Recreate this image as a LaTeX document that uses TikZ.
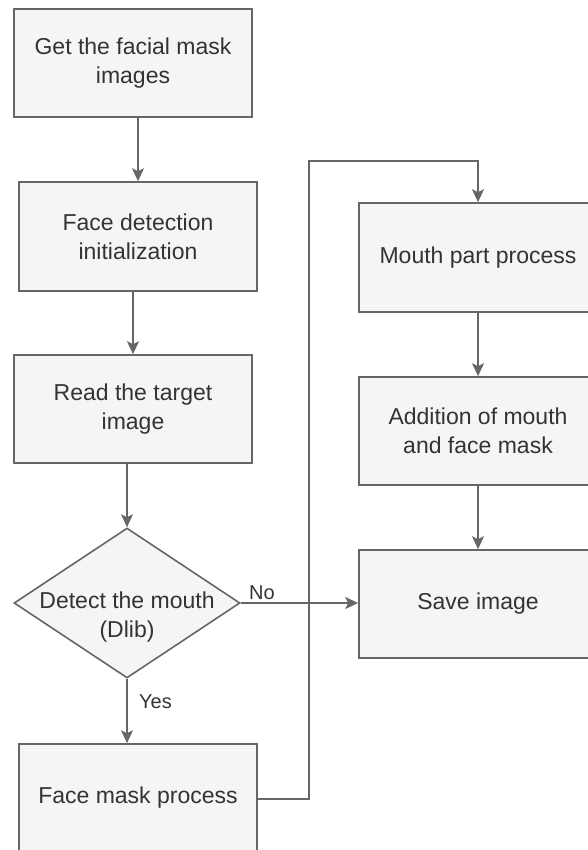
\documentclass[tikz,border=0pt]{standalone}
\usepackage{fontspec}
\setmainfont{Liberation Sans}
\usetikzlibrary{shapes.geometric,arrows.meta}
\definecolor{edge}{HTML}{666666}
\definecolor{boxfill}{HTML}{F5F5F5}
\definecolor{ink}{HTML}{333333}
\begin{document}
\begin{tikzpicture}[x=1pt,y=-1pt,
  stepbox/.style={draw=edge, fill=boxfill, line width=1.6pt, minimum width=238pt,
    minimum height=108pt, inner sep=0pt, text=ink, align=center,
    font=\fontsize{23}{29}\selectfont},
  decision/.style={diamond, draw=edge, fill=boxfill, line width=1.6pt,
    minimum width=226pt, minimum height=150pt, inner sep=0pt},
  dtext/.style={text=ink, align=center, inner sep=0pt, font=\fontsize{23}{29}\selectfont},
  flow/.style={draw=edge, line width=1.6pt, -{Stealth[length=13pt,width=12pt,inset=3pt]}},
  lbl/.style={text=ink, font=\fontsize{20}{24}\selectfont, inner sep=0pt}]
\useasboundingbox (0,0) rectangle (588,850);
\clip (0,0) rectangle (588,850);

% left column
\node[stepbox] (get)  at (133,63)    {Get the facial mask\\images};
\node[stepbox, minimum height=109pt] (init) at (138,236.5) {Face detection\\initialization};
\node[stepbox] (read) at (133,409)   {Read the target\\image};
\node[decision] (det) at (127,603) {};
\node[dtext] (dett) at (127,617) {Detect the mouth\\(Dlib)};
\node[stepbox] (fmp)  at (138,798)   {Face mask process};

% right column
\node[stepbox, minimum height=109pt] (mpp) at (478,257.5) {Mouth part process};
\node[stepbox] (add)  at (478,431)  {Addition of mouth\\and face mask};
\node[stepbox] (save) at (478,604)  {Save image};

% connectors
\draw[flow] (init.north |- get.south) -- (init.north);
\draw[flow] (read.north |- init.south) -- (read.north);
\draw[flow] (det.north |- read.south) -- (det.north);
\draw[flow] (det.south) -- (det.south |- fmp.north);
\draw[flow] (det.east) -- (save.west |- det.east);
\draw[flow] (mpp.south) -- (add.north);
\draw[flow] (add.south) -- (save.north);

\coordinate (up1) at (309,799);
\coordinate (up2) at (309,161);
\draw[flow] (fmp.east |- up1) -- (up1) -- (up2) -- (mpp.north |- up2) -- (mpp.north);

% branch labels
\node[lbl, anchor=west] (no)  at (249,593) {No};
\node[lbl, anchor=west] (yes) at (139,702) {Yes};
\end{tikzpicture}
\end{document}
